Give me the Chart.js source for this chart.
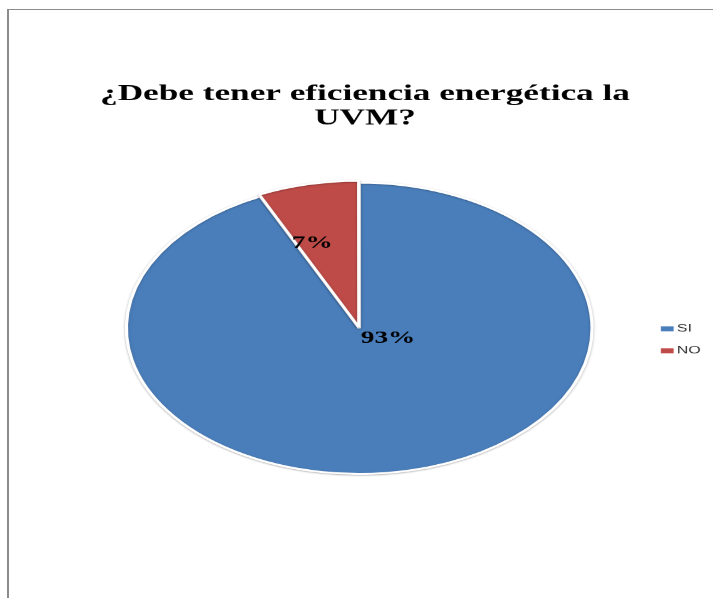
<!DOCTYPE html>
<html><head><meta charset="utf-8">
<script src="https://cdn.jsdelivr.net/npm/chart.js@4/dist/chart.umd.min.js"></script>
<style>
html,body{margin:0;padding:0;background:#fff;width:713px;height:598px;overflow:hidden}
#frame{position:absolute;left:7px;top:9px;width:1000px;height:1000px;border-left:2px solid #8c8c8c;border-top:1px solid #8c8c8c}
#wrap{position:absolute;left:0;top:0;width:446px;height:598px;transform:scaleX(1.598655);transform-origin:0 0}
</style></head><body>
<div id="frame"></div>
<div id="wrap"><canvas id="c" width="446" height="598"></canvas></div>
<script>
const categories = ['SI', 'NO'];
const percentages = [93, 7];
const percentLabels = ['93%', '7%'];
const titleLines = ['¿Debe tener eficiencia energética la', 'UVM?'];
const sliceColors = ['#4a7ebb', '#be4b48'];

const labelPlacement = [{frac: 0, dx: 18, dy: 10}, {frac: 0.61, dx: -10, dy: 2}];
const titleShiftX = 3.6;

const titleNudge = {
  id: 'titleNudge',
  beforeDraw(chart) { chart.ctx.save(); chart.ctx.translate(titleShiftX, 0); },
  beforeDatasetsDraw(chart) { chart.ctx.restore(); }
};

const pieShadow = {
  id: 'pieShadow',
  beforeDatasetsDraw(chart) {
    const ctx = chart.ctx;
    ctx.save();
    ctx.shadowColor = 'rgba(0,0,0,0.28)';
    ctx.shadowBlur = 3;
    ctx.shadowOffsetX = 0;
    ctx.shadowOffsetY = 1;
  },
  afterDatasetsDraw(chart) { chart.ctx.restore(); }
};

const pctLabels = {
  id: 'pctLabels',
  afterDatasetsDraw(chart) {
    const ctx = chart.ctx;
    const meta = chart.getDatasetMeta(0);
    ctx.save();
    ctx.font = 'bold 17px "Liberation Serif", "Times New Roman", serif';
    ctx.fillStyle = '#000';
    ctx.textAlign = 'center';
    ctx.textBaseline = 'middle';
    meta.data.forEach((arc, i) => {
      const p = arc.getProps(['x', 'y', 'startAngle', 'endAngle', 'outerRadius'], true);
      const mid = (p.startAngle + p.endAngle) / 2;
      const r = p.outerRadius * labelPlacement[i].frac;
      const x = p.x + Math.cos(mid) * r + labelPlacement[i].dx;
      const y = p.y + Math.sin(mid) * r + labelPlacement[i].dy;
      ctx.fillText(percentLabels[i], x, y);
    });
    ctx.restore();
  }
};

const sideLegend = {
  id: 'sideLegend',
  afterDraw(chart) {
    const ctx = chart.ctx;
    const ds = chart.data.datasets[0];
    ctx.save();
    ctx.font = '10px "Liberation Sans", Arial, sans-serif';
    ctx.textBaseline = 'middle';
    ctx.textAlign = 'left';
    chart.data.labels.forEach((lab, i) => {
      const y = 328.5 + i * 22;
      ctx.fillStyle = ds.backgroundColor[i];
      ctx.fillRect(413, y - 2.5, 8, 5);
      ctx.fillStyle = '#333333';
      ctx.fillText(lab, 423, y);
    });
    ctx.restore();
  }
};

new Chart(document.getElementById('c'), {
  type: 'pie',
  data: {
    labels: categories,
    datasets: [{
      data: percentages,
      backgroundColor: sliceColors,
      borderColor: '#ffffff',
      borderWidth: 2,
      offset: [0, 5],
      hoverOffset: 0
    }]
  },
  options: {
    responsive: false,
    devicePixelRatio: 1.6,
    animation: false,
    events: [],
    layout: {padding: {top: 82, bottom: 121, left: 3, right: 0}},
    plugins: {
      legend: {display: false},
      tooltip: {enabled: false},
      title: {
        display: true,
        text: titleLines,
        color: '#000',
        font: {family: '"Liberation Serif", "Times New Roman", serif', size: 22, weight: 'bold', lineHeight: 1.12},
        padding: {top: 0, bottom: 47.7}
      }
    }
  },
  plugins: [titleNudge, pieShadow, pctLabels, sideLegend]
});
</script>
</body></html>
